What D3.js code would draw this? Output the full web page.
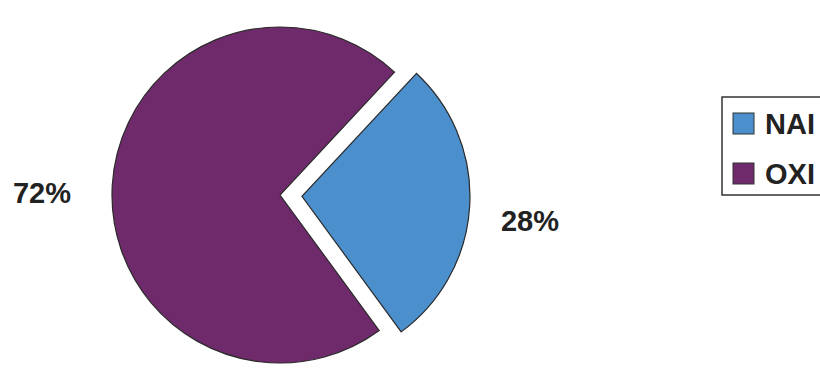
<!DOCTYPE html>
<html>
<head>
<meta charset="utf-8">
<style>
  body { margin: 0; background: #fff; }
  svg text { font-family: "Liberation Sans", Arial, sans-serif; font-weight: bold; fill: #222; }
</style>
</head>
<body>
<div id="chart"></div>
<script src="https://cdn.jsdelivr.net/npm/d3@7"></script>
<script>
// data
var categories = ["NAI", "OXI"];
var values = [28, 72];
var labels = ["28%", "72%"];
var colors = ["#4b8fcd", "#6f2a6c"];

var width = 820, height = 371;
var cx = 280, cy = 195, radius = 168;
var explode = 22;

var svg = d3.select("#chart").append("svg")
    .attr("width", width)
    .attr("height", height);

var start = 43 * Math.PI / 180;
var pie = d3.pie().sort(null)
    .startAngle(start)
    .endAngle(start + 2 * Math.PI);

var arc = d3.arc().innerRadius(0).outerRadius(radius);
var slices = pie(values);

var g = svg.append("g").attr("transform", `translate(${cx},${cy})`);

// NAI slice is pulled out a bit
g.selectAll("path")
  .data(slices)
  .enter().append("path")
    .attr("d", arc)
    .attr("transform", function(d, i) {
        if (i != 0) return null;
        var a = (d.startAngle + d.endAngle) / 2;
        return `translate(${Math.sin(a) * explode},${-Math.cos(a) * explode})`;
    })
    .style("fill", (d, i) => colors[i])
    .style("stroke", "#2a2a2a")
    .style("stroke-width", 1.2);

// percentage labels
var labelPos = [[530, 231], [42, 203]];
svg.selectAll(".pct")
  .data(labels)
  .enter().append("text")
    .attr("class", "pct")
    .attr("x", (d, i) => labelPos[i][0])
    .attr("y", (d, i) => labelPos[i][1])
    .attr("text-anchor", "middle")
    .style("font-size", "29px")
    .text(d => d);

// legend, runs off the right edge
var legend = svg.append("g").attr("transform", "translate(722,97)");
legend.append("rect")
    .attr("x", 0).attr("y", 0)
    .attr("width", 130).attr("height", 98)
    .style("fill", "#fff")
    .style("stroke", "#333")
    .style("stroke-width", 1.5);

var item = legend.selectAll(".item")
  .data(categories)
  .enter().append("g")
    .attr("class", "item")
    .attr("transform", (d, i) => `translate(11,${16 + i * 50})`);

item.append("rect")
    .attr("width", 21).attr("height", 21)
    .style("fill", (d, i) => colors[i])
    .style("stroke", "#333")
    .style("stroke-width", 1);

item.append("text")
    .attr("x", 32)
    .attr("y", 21)
    .style("font-size", "29px")
    .text(d => d);
</script>
</body>
</html>
